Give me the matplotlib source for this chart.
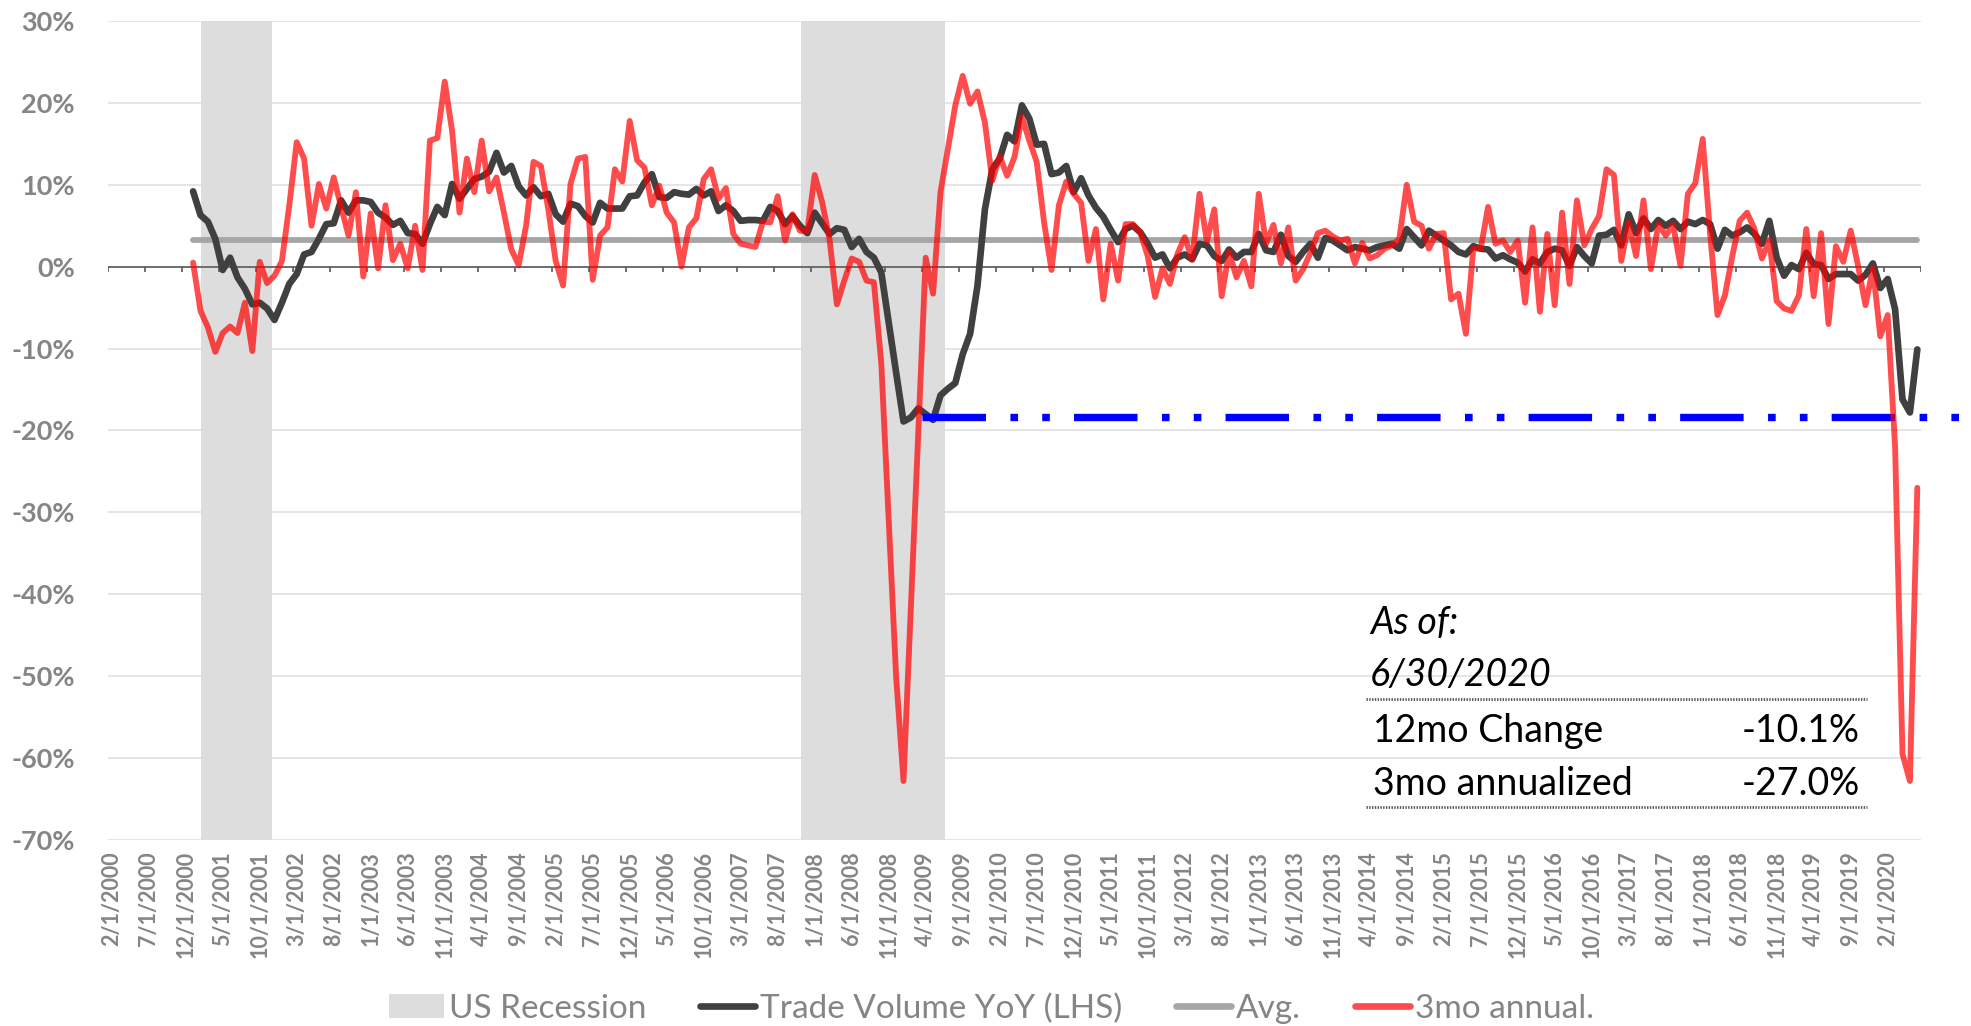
import numpy as np
import pandas as pd
import matplotlib
matplotlib.use('Agg')
import matplotlib.pyplot as plt
from matplotlib.lines import Line2D
from matplotlib.patches import Patch

plt.rcParams['font.family'] = ['Lato', 'DejaVu Sans']
plt.rcParams['lines.scale_dashes'] = False

# ---------------- data ----------------
months = pd.date_range('2000-02-01', '2020-06-01', freq='MS')   # category axis (245 months)
tick_labels = [f"{d.month}/{d.day}/{d.year}" for d in months]
first_date = '2001-01-01'                                     # both series start here

trade_volume_yoy = [
    9.2, 6.3, 5.5, 3.4, -0.4, 1.1, -1.3, -2.7, -4.6, -4.4,
    -5.1, -6.5, -4.4, -2.1, -0.9, 1.5, 1.8, 3.4, 5.2, 5.3,
    8.1, 6.6, 8.1, 8.1, 7.9, 6.6, 6.0, 5.1, 5.6, 4.1,
    4.0, 2.8, 5.2, 7.3, 6.3, 10.1, 8.3, 9.5, 10.7, 11.0,
    11.6, 13.9, 11.5, 12.3, 9.8, 8.7, 9.7, 8.6, 8.9, 6.4,
    5.5, 7.7, 7.4, 6.2, 5.4, 7.8, 7.1, 7.1, 7.1, 8.6,
    8.7, 10.3, 11.3, 8.5, 8.4, 9.1, 8.9, 8.8, 9.5, 8.7,
    9.2, 6.8, 7.5, 6.8, 5.6, 5.7, 5.7, 5.6, 7.3, 6.8,
    5.2, 6.2, 5.0, 4.1, 6.6, 5.3, 4.0, 4.7, 4.5, 2.4,
    3.4, 1.8, 1.1, -0.7, -6.8, -12.9, -18.9, -18.4, -17.3, -18.0,
    -18.7, -15.7, -14.9, -14.2, -10.7, -8.2, -2.3, 7.0, 11.9, 13.2,
    16.1, 15.3, 19.7, 18.1, 14.9, 15.0, 11.3, 11.5, 12.3, 9.1,
    10.8, 8.7, 7.2, 6.1, 4.5, 3.0, 4.6, 5.0, 4.2, 2.8,
    1.1, 1.5, -0.2, 1.1, 1.5, 0.9, 2.8, 2.6, 1.3, 0.7,
    2.1, 1.1, 1.8, 1.8, 4.0, 2.0, 1.8, 3.9, 1.3, 0.6,
    1.8, 2.8, 1.1, 3.5, 3.2, 2.6, 2.0, 2.4, 2.2, 2.0,
    2.4, 2.6, 2.8, 2.2, 4.6, 3.6, 2.6, 4.4, 3.8, 3.2,
    2.6, 1.8, 1.5, 2.5, 2.2, 2.1, 1.0, 1.4, 0.9, 0.5,
    -0.6, 0.9, 0.4, 1.8, 2.2, 2.0, 0.1, 2.4, 1.3, 0.4,
    3.8, 3.9, 4.5, 2.6, 6.4, 4.1, 5.9, 4.6, 5.7, 5.0,
    5.6, 4.6, 5.5, 5.2, 5.7, 5.2, 2.2, 4.5, 3.8, 4.2,
    4.8, 4.0, 2.8, 5.6, 1.1, -1.1, 0.2, -0.3, 1.7, 0.3,
    0.2, -1.5, -0.9, -0.9, -0.9, -1.7, -1.0, 0.4, -2.6, -1.5,
    -5.2, -16.2, -17.8, -10.1,
]

three_mo_annual = [
    0.5, -5.4, -7.4, -10.4, -8.1, -7.3, -8.1, -4.4, -10.3, 0.6,
    -2.0, -1.1, 0.7, 7.5, 15.2, 13.2, 5.0, 10.1, 7.1, 10.9,
    7.3, 3.8, 9.1, -1.2, 6.5, -0.2, 7.5, 0.8, 2.8, -0.2,
    5.0, -0.4, 15.4, 15.7, 22.6, 16.6, 6.6, 13.2, 9.1, 15.4,
    9.2, 10.9, 6.6, 2.1, 0.2, 5.0, 12.8, 12.3, 7.0, 0.7,
    -2.3, 10.1, 13.2, 13.4, -1.6, 3.8, 4.8, 11.9, 10.4, 17.8,
    13.0, 12.1, 7.5, 9.9, 6.6, 5.4, 0.0, 4.8, 5.9, 10.7,
    11.9, 8.3, 9.6, 4.0, 2.8, 2.6, 2.4, 5.5, 5.4, 8.6,
    3.2, 6.4, 4.4, 4.3, 11.2, 7.9, 3.4, -4.6, -1.7, 1.0,
    0.6, -1.7, -1.9, -11.8, -31.0, -50.0, -62.8, -41.5, -20.0, 1.1,
    -3.3, 9.1, 14.4, 19.7, 23.3, 19.9, 21.4, 17.6, 10.5, 13.5,
    11.1, 13.4, 18.3, 15.4, 12.8, 5.4, -0.4, 7.5, 10.4, 8.9,
    7.8, 0.7, 4.6, -4.0, 2.8, -1.7, 5.2, 5.2, 4.2, 1.3,
    -3.7, -0.2, -2.1, 1.5, 3.6, 0.9, 8.9, 3.1, 7.0, -3.6,
    1.8, -1.3, 0.7, -2.4, 8.9, 2.8, 5.1, 0.4, 4.8, -1.7,
    -0.3, 1.7, 4.1, 4.4, 3.7, 3.2, 3.4, 0.4, 2.9, 1.0,
    1.4, 2.2, 2.6, 3.4, 10.0, 5.5, 5.0, 2.2, 4.0, 4.1,
    -4.0, -3.3, -8.2, 2.2, 2.2, 7.3, 2.8, 3.2, 1.8, 3.2,
    -4.4, 4.8, -5.5, 4.0, -4.7, 6.6, -2.1, 8.1, 2.6, 4.6,
    6.2, 11.9, 11.2, 0.7, 5.4, 1.3, 8.1, -0.3, 5.2, 3.8,
    5.1, 0.1, 8.9, 10.2, 15.6, 4.0, -5.9, -3.5, 1.3, 5.6,
    6.6, 4.6, 1.0, 3.2, -4.2, -5.1, -5.4, -3.5, 4.6, -3.6,
    4.1, -7.0, 2.5, 0.6, 4.4, 0.1, -4.7, -0.2, -8.5, -5.9,
    -22.0, -59.5, -62.8, -27.0,
]

avg_value = 3.2
threshold_value = -18.3
threshold_start = '2009-04-01'
recession_start = ['2001-03-01', '2007-12-01']
recession_end = ['2001-11-01', '2009-06-01']

table_rows = [("12mo Change", "-10.1%"), ("3mo annualized", "-27.0%")]
as_of = "6/30/2020"

# ---------------- figure ----------------
W, H = 1971, 1026
fig = plt.figure(figsize=(W / 100, H / 100), dpi=100)
ax = fig.add_axes([108 / W, 186 / H, 1813 / W, 819 / H])

idx = {d: i for i, d in enumerate(months)}
i0 = idx[pd.Timestamp(first_date)]
x_series = np.arange(i0, i0 + len(trade_volume_yoy))

GRAY_TXT = '#858585'

# recession bands
for s, e in zip(recession_start, recession_end):
    ax.axvspan(idx[pd.Timestamp(s)] - 0.9, idx[pd.Timestamp(e)] + 0.6,
               color='#dddddd', lw=0, zorder=0.2)

# grid
ax.set_ylim(-70, 30)
ax.set_xlim(-0.5, len(months) - 0.5)
yt = np.arange(-70, 31, 10)
ax.set_yticks(yt)
ax.set_yticklabels([f"{v}%" for v in yt], fontsize=19.5, fontweight='bold', color=GRAY_TXT)
for v in yt:
    ax.axhline(v, color='#dedede', lw=1.1, zorder=0.5)

# zero axis line with tick marks
ax.axhline(0, color='#595959', lw=1.2, zorder=2)
tick_pos = np.arange(-0.5, len(months), 5)
ax.vlines(tick_pos, -0.7, 0, color='#595959', lw=1.2, zorder=2)

# x labels (every 5 months)
xt = np.arange(0, len(months), 5)
ax.set_xticks(xt)
ax.set_xticklabels([tick_labels[i] for i in xt], rotation=90, fontsize=15.5,
                   fontweight='bold', color=GRAY_TXT)
ax.tick_params(axis='x', length=0, pad=8)
ax.tick_params(axis='y', length=0, pad=24)
for sp in ax.spines.values():
    sp.set_visible(False)

# series
ax.plot(x_series, np.full(len(x_series), avg_value), color='#a6a6a6', lw=4.2,
        solid_capstyle='round', zorder=3)
ax.plot(x_series, trade_volume_yoy, color='#404040', lw=4.8,
        solid_joinstyle='round', solid_capstyle='round', zorder=4)
ts = idx[pd.Timestamp(threshold_start)] - 0.5
ax.plot([ts, 250], [threshold_value, threshold_value], color='#0000ff', lw=5.3,
        dashes=(45.7, 17.6, 5.5, 17.4, 5.5, 17.4), dash_capstyle='butt',
        clip_on=False, zorder=5)
ax.plot(x_series, three_mo_annual, color=(1, 0, 0), alpha=0.7, lw=4.2,
        solid_joinstyle='round', solid_capstyle='round', zorder=6)

# table annotation
fs_t = 27
fig.text(1370 / W, 1 - 634 / H, "As of:", fontsize=fs_t, style='italic', color='black',
         ha='left', va='baseline')
fig.text(1370 / W, 1 - 686 / H, as_of, fontsize=fs_t, style='italic', color='black',
         ha='left', va='baseline')
for k, (lab, val) in enumerate(table_rows):
    yb = 1 - (742 + 53 * k) / H
    fig.text(1373 / W, yb, lab, fontsize=fs_t, color='black', ha='left', va='baseline')
    fig.text(1860 / W, yb, val, fontsize=fs_t, color='black', ha='right', va='baseline')
for yl in (699, 807):
    fig.add_artist(Line2D([1366 / W, 1867 / W], [1 - yl / H, 1 - yl / H],
                          transform=fig.transFigure, color='#555555', lw=2.0,
                          linestyle=(0, (1, 1))))

# legend
handles = [Patch(facecolor='#dddddd', edgecolor='none'),
           Line2D([], [], color='#404040', lw=4.8, solid_capstyle='round'),
           Line2D([], [], color='#a6a6a6', lw=4.8, solid_capstyle='round'),
           Line2D([], [], color=(1, 0, 0), alpha=0.7, lw=4.8, solid_capstyle='round')]
labels = ['US Recession', 'Trade Volume YoY (LHS)', 'Avg.', '3mo annual.']
fig.legend(handles, labels, loc='center', bbox_to_anchor=(0.503, 0.017), ncol=4,
           frameon=False, fontsize=24, labelcolor=GRAY_TXT, handlelength=1.65,
           handletextpad=0.15, columnspacing=1.62, borderaxespad=0)

fig.savefig('out.png', dpi=100)
